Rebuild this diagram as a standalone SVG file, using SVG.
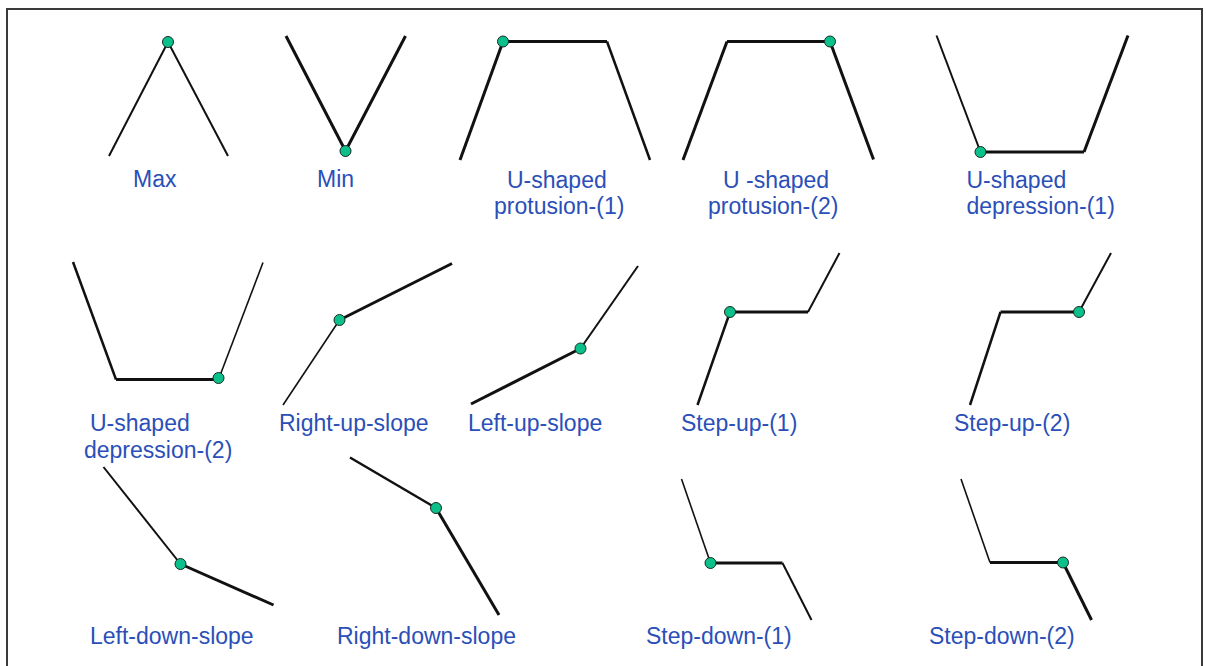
<svg xmlns="http://www.w3.org/2000/svg" width="1206" height="666" viewBox="0 0 1206 666">
  <style>
    .frame { fill: #ffffff; stroke: #3a3a3a; stroke-width: 2; }
    .seg { fill: none; stroke: #111111; stroke-linecap: butt; stroke-linejoin: miter; }
    .w1 { stroke-width: 1.6; }
    .w2 { stroke-width: 2; }
    .w25 { stroke-width: 2.5; }
    .w3 { stroke-width: 3; }
    .pt { fill: #0cc08c; stroke: #1a2a22; stroke-width: 1; }
    .lbl { font-family: "Liberation Sans", Arial, sans-serif; font-size: 23px; fill: #2a4fb8; }
  </style>

  <rect width="1206" height="666" fill="#ffffff"/>
  <rect class="frame" x="7" y="9" width="1195" height="670"/>

  <!-- Row 1 -->
  <g id="max">
    <line class="seg w2" x1="109" y1="156" x2="168" y2="42"/>
    <line class="seg w2" x1="168" y1="42" x2="228" y2="156"/>
    <circle class="pt" cx="168" cy="42" r="5.5"/>
    <text class="lbl" x="133" y="187">Max</text>
  </g>

  <g id="min">
    <line class="seg w3" x1="286" y1="36" x2="345.5" y2="151"/>
    <line class="seg w3" x1="345.5" y1="151" x2="405.5" y2="36"/>
    <circle class="pt" cx="345.5" cy="151" r="5.5"/>
    <text class="lbl" x="317" y="187">Min</text>
  </g>

  <g id="u-protrusion-1">
    <line class="seg w3" x1="460" y1="160" x2="503" y2="41.5"/>
    <line class="seg w3" x1="503" y1="41.5" x2="607" y2="41.5"/>
    <line class="seg w25" x1="607" y1="41.5" x2="650" y2="160"/>
    <circle class="pt" cx="503" cy="41.5" r="5.5"/>
    <text class="lbl" x="507" y="187.5">U-shaped</text>
    <text class="lbl" x="494" y="214">protusion-(1)</text>
  </g>

  <g id="u-protrusion-2">
    <line class="seg w3" x1="683" y1="160" x2="727" y2="41.5"/>
    <line class="seg w3" x1="727" y1="41.5" x2="830" y2="41.5"/>
    <line class="seg w3" x1="830" y1="41.5" x2="873.5" y2="159.5"/>
    <circle class="pt" cx="830" cy="41.5" r="5.5"/>
    <text class="lbl" x="723" y="187.5">U -shaped</text>
    <text class="lbl" x="708" y="214">protusion-(2)</text>
  </g>

  <g id="u-depression-1">
    <line class="seg w2" x1="936.5" y1="35.5" x2="980.5" y2="152"/>
    <line class="seg w3" x1="980.5" y1="152" x2="1084" y2="152"/>
    <line class="seg w3" x1="1084" y1="152" x2="1128" y2="35.5"/>
    <circle class="pt" cx="980.5" cy="152" r="5.5"/>
    <text class="lbl" x="966.5" y="187.5">U-shaped</text>
    <text class="lbl" x="966.5" y="214">depression-(1)</text>
  </g>

  <!-- Row 2 -->
  <g id="u-depression-2">
    <line class="seg w25" x1="73" y1="262" x2="116" y2="379.5"/>
    <line class="seg w3" x1="116" y1="379.5" x2="218.5" y2="379.5"/>
    <line class="seg w1" x1="218.5" y1="379.5" x2="263" y2="262.5"/>
    <circle class="pt" cx="218.5" cy="378" r="5.5"/>
    <text class="lbl" x="90" y="431">U-shaped</text>
    <text class="lbl" x="84" y="458">depression-(2)</text>
  </g>

  <g id="right-up-slope">
    <line class="seg w1" x1="283" y1="405" x2="339.5" y2="320"/>
    <line class="seg w3" x1="339.5" y1="320" x2="452" y2="263.5"/>
    <circle class="pt" cx="339.5" cy="320" r="5.5"/>
    <text class="lbl" x="279" y="431">Right-up-slope</text>
  </g>

  <g id="left-up-slope">
    <line class="seg w3" x1="471" y1="404" x2="580.5" y2="348.5"/>
    <line class="seg w2" x1="580.5" y1="348.5" x2="638" y2="266"/>
    <circle class="pt" cx="580.5" cy="348.5" r="5.5"/>
    <text class="lbl" x="468" y="431">Left-up-slope</text>
  </g>

  <g id="step-up-1">
    <line class="seg w25" x1="697.5" y1="405" x2="730" y2="312"/>
    <line class="seg w3" x1="730" y1="312" x2="808" y2="312"/>
    <line class="seg w2" x1="808" y1="312" x2="839.5" y2="253"/>
    <circle class="pt" cx="730" cy="312" r="5.5"/>
    <text class="lbl" x="681" y="431">Step-up-(1)</text>
  </g>

  <g id="step-up-2">
    <line class="seg w25" x1="970" y1="405" x2="1000.5" y2="312"/>
    <line class="seg w3" x1="1000.5" y1="312" x2="1079" y2="312"/>
    <line class="seg w2" x1="1079" y1="312" x2="1111" y2="253"/>
    <circle class="pt" cx="1079" cy="312" r="5.5"/>
    <text class="lbl" x="954" y="431">Step-up-(2)</text>
  </g>

  <!-- Row 3 -->
  <g id="left-down-slope">
    <line class="seg w2" x1="103.5" y1="467" x2="180.5" y2="564"/>
    <line class="seg w3" x1="180.5" y1="564" x2="273.5" y2="605"/>
    <circle class="pt" cx="180.5" cy="564" r="5.5"/>
    <text class="lbl" x="90" y="644">Left-down-slope</text>
  </g>

  <g id="right-down-slope">
    <line class="seg w25" x1="350" y1="457.5" x2="436" y2="508"/>
    <line class="seg w3" x1="436" y1="508" x2="499" y2="615"/>
    <circle class="pt" cx="436" cy="508" r="5.5"/>
    <text class="lbl" x="337" y="644">Right-down-slope</text>
  </g>

  <g id="step-down-1">
    <line class="seg w1" x1="681.5" y1="479" x2="710.5" y2="563"/>
    <line class="seg w3" x1="710.5" y1="563" x2="782.5" y2="563"/>
    <line class="seg w2" x1="782.5" y1="563" x2="811.5" y2="620"/>
    <circle class="pt" cx="710.5" cy="563" r="5.5"/>
    <text class="lbl" x="646" y="644">Step-down-(1)</text>
  </g>

  <g id="step-down-2">
    <line class="seg w1" x1="961" y1="479" x2="990" y2="562.5"/>
    <line class="seg w3" x1="990" y1="562.5" x2="1063" y2="562.5"/>
    <line class="seg w3" x1="1063" y1="562.5" x2="1091.5" y2="620"/>
    <circle class="pt" cx="1063" cy="562.5" r="5.5"/>
    <text class="lbl" x="929" y="644">Step-down-(2)</text>
  </g>

  <!-- no separate connectors: every pattern is a self-contained polyline -->
  <g id="connectors"></g>
</svg>
